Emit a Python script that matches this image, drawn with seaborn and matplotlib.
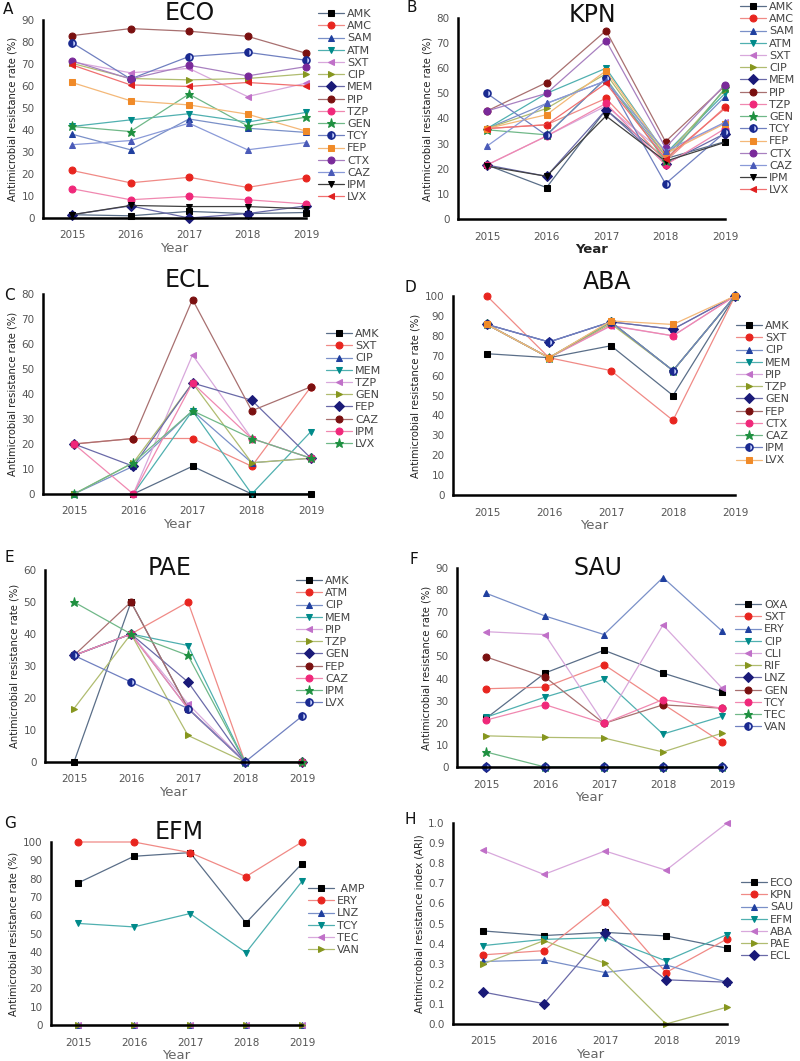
import numpy as np
import pandas as pd
import matplotlib
matplotlib.use("Agg")
import matplotlib.pyplot as plt
import seaborn as sns

years = [2015, 2016, 2017, 2018, 2019]

# ---- A: ECO
eco_drugs = ['AMK', 'AMC', 'SAM', 'ATM', 'SXT', 'CIP', 'MEM', 'PIP', 'TZP', 'GEN', 'TCY', 'FEP', 'CTX', 'CAZ', 'IPM', 'LVX']
eco_vals = [
    [1.5, 1.0, 3.0, 2.0, 2.5],
    [21.6, 16.0, 18.5, 13.9, 18.2],
    [38.1, 31.0, 45.0, 40.8, 38.9],
    [41.6, 44.6, 47.4, 43.6, 48.0],
    [71.0, 66.0, 68.0, 55.2, 61.3],
    [70.3, 63.4, 62.8, 63.4, 65.5],
    [1.5, 5.5, 0.0, 2.0, 5.5],
    [82.9, 86.1, 84.9, 82.6, 74.9],
    [13.3, 8.3, 9.8, 8.3, 6.4],
    [41.6, 39.3, 56.3, 41.9, 45.8],
    [79.7, 63.2, 73.4, 75.3, 71.7],
    [61.6, 53.3, 51.4, 47.2, 39.5],
    [71.4, 63.2, 69.4, 64.6, 68.8],
    [33.3, 35.2, 43.1, 31.0, 34.3],
    [1.5, 5.7, 5.2, 5.2, 4.2],
    [69.6, 60.5, 59.8, 61.6, 60.0],
]

# ---- B: KPN
kpn_drugs = ['AMK', 'AMC', 'SAM', 'ATM', 'SXT', 'CIP', 'MEM', 'PIP', 'TZP', 'GEN', 'TCY', 'FEP', 'CTX', 'CAZ', 'IPM', 'LVX']
kpn_vals = [
    [21.5, 12.5, 43.5, 24.0, 30.8],
    [36.0, 37.5, 48.0, 23.0, 44.5],
    [36.0, 46.0, 55.0, 25.0, 48.7],
    [36.0, 50.0, 60.0, 26.0, 50.0],
    [21.5, 33.0, 45.0, 26.0, 38.5],
    [36.0, 44.0, 57.8, 25.0, 51.5],
    [21.5, 17.0, 43.5, 22.0, 34.0],
    [43.0, 54.3, 75.0, 30.8, 53.0],
    [21.5, 33.0, 46.0, 21.5, 36.0],
    [35.5, 33.5, 56.0, 23.0, 52.0],
    [50.0, 33.3, 56.0, 14.0, 34.5],
    [36.0, 41.5, 59.0, 26.0, 38.0],
    [43.0, 50.0, 71.0, 28.4, 53.5],
    [29.0, 46.0, 55.0, 27.0, 38.5],
    [21.0, 17.0, 41.0, 23.0, 30.5],
    [36.0, 37.5, 54.0, 24.0, 44.0],
]

# ---- C: ECL
ecl_drugs = ['AMK', 'SXT', 'CIP', 'MEM', 'TZP', 'GEN', 'FEP', 'CAZ', 'IPM', 'LVX']
ecl_vals = [
    [0.0, 0.0, 11.1, 0.0, 0.0],
    [20.0, 22.2, 22.2, 11.1, 42.9],
    [0.0, 11.1, 33.3, 12.5, 14.3],
    [0.0, 0.0, 33.3, 0.0, 25.0],
    [0.0, 0.0, 55.6, 22.2, 14.3],
    [0.0, 12.5, 44.4, 12.5, 14.3],
    [20.0, 11.1, 44.4, 37.5, 14.3],
    [20.0, 22.2, 77.8, 33.3, 42.9],
    [20.0, 0.0, 44.4, 22.2, 14.3],
    [0.0, 12.5, 33.3, 22.2, 14.3],
]

# ---- D: ABA
aba_drugs = ['AMK', 'SXT', 'CIP', 'MEM', 'PIP', 'TZP', 'GEN', 'FEP', 'CTX', 'CAZ', 'IPM', 'LVX']
aba_vals = [
    [71.0, 69.0, 75.0, 50.0, 100.0],
    [100.0, 69.0, 62.5, 37.5, 100.0],
    [85.7, 76.9, 87.0, 83.3, 100.0],
    [85.7, 69.0, 87.0, 62.5, 100.0],
    [85.7, 69.0, 85.0, 80.0, 100.0],
    [85.7, 69.0, 86.0, 62.5, 100.0],
    [85.7, 76.9, 87.0, 83.3, 100.0],
    [85.7, 69.0, 87.0, 62.5, 100.0],
    [85.7, 69.0, 85.2, 80.0, 100.0],
    [85.7, 69.0, 87.0, 62.5, 100.0],
    [85.7, 76.9, 87.0, 62.5, 100.0],
    [85.7, 69.0, 87.5, 85.7, 100.0],
]

# ---- E: PAE
pae_drugs = ['AMK', 'ATM', 'CIP', 'MEM', 'PIP', 'TZP', 'GEN', 'FEP', 'CAZ', 'IPM', 'LVX']
pae_vals = [
    [0.0, 50.0, 16.7, 0.0, 0.0],
    [33.3, 40.0, 50.0, 0.0, 0.0],
    [33.3, 40.0, 16.7, 0.0, 0.0],
    [33.3, 40.0, 36.4, 0.0, 0.0],
    [33.3, 40.0, 18.2, 0.0, 0.0],
    [16.7, 40.0, 8.3, 0.0, 0.0],
    [33.3, 40.0, 25.0, 0.0, 0.0],
    [33.3, 50.0, 16.7, 0.0, 0.0],
    [33.3, 40.0, 16.7, 0.0, 0.0],
    [50.0, 40.0, 33.3, 0.0, 0.0],
    [33.3, 25.0, 16.7, 0.0, 14.3],
]

# ---- F: SAU
sau_drugs = ['OXA', 'SXT', 'ERY', 'CIP', 'CLI', 'RIF', 'LNZ', 'GEN', 'TCY', 'TEC', 'VAN']
sau_vals = [
    [22.0, 42.5, 52.8, 42.5, 34.1],
    [35.4, 36.1, 46.3, 28.5, 11.1],
    [78.6, 68.3, 59.9, 85.7, 61.5],
    [22.5, 31.6, 39.6, 14.9, 22.9],
    [61.2, 59.9, 19.7, 64.2, 35.7],
    [14.1, 13.4, 13.1, 6.8, 15.3],
    [0.0, 0.0, 0.0, 0.0, 0.0],
    [49.8, 40.7, 19.7, 28.1, 26.6],
    [21.2, 28.2, 19.7, 30.5, 26.6],
    [6.8, 0.0, 0.0, 0.0, 0.0],
    [0.0, 0.0, 0.0, 0.0, 0.0],
]

# ---- G: EFM
efm_drugs = [' AMP', 'ERY', 'LNZ', 'TCY', 'TEC', 'VAN']
efm_vals = [
    [77.6, 92.2, 94.2, 55.8, 88.2],
    [100.0, 100.0, 94.2, 81.1, 100.0],
    [0.0, 0.0, 0.0, 0.0, 0.0],
    [55.5, 53.6, 60.9, 39.6, 78.5],
    [0.0, 0.0, 0.0, 0.0, 0.0],
    [0.0, 0.0, 0.0, 0.0, 0.0],
]

# ---- H: ARI
ari_species = ['ECO', 'KPN', 'SAU', 'EFM', 'ABA', 'PAE', 'ECL']
ari_vals = [
    [0.463, 0.440, 0.456, 0.438, 0.377],
    [0.344, 0.365, 0.605, 0.256, 0.423],
    [0.311, 0.319, 0.256, 0.294, 0.208],
    [0.390, 0.421, 0.430, 0.314, 0.445],
    [0.864, 0.744, 0.861, 0.765, 1.000],
    [0.298, 0.415, 0.302, 0.000, 0.084],
    [0.159, 0.101, 0.455, 0.220, 0.208],
]

# marker styles in the order used by every panel
markers = ['s', 'o', '^', 'v', '<', '>', 'D', 'o', 'o', '*', 'o', 's', 'o', '^', 'v', '<']
mcolors = ['#000000', '#e8251f', '#1f3f9f', '#008a8a', '#c070c8', '#86961e', '#1a1a78', '#7a1010',
           '#f0287a', '#1e9040', '#1a2a90', '#f08a28', '#7a2a9a', '#4a5ab8', '#000000', '#e02020']
lcolors = ['#5a6e88', '#f08a86', '#7a90c8', '#50b0b0', '#d8a8dc', '#b0bc70', '#6a6aa8', '#a87070',
           '#f088b0', '#70b888', '#7080c0', '#f4b878', '#a880c0', '#8a9ad8', '#404040', '#f07070']

sns.set_style('white')
plt.rcParams['font.family'] = ['DejaVu Sans']

W, H = 800, 1061
fig = plt.figure(figsize=(8, 10.61), dpi=100)
fig.patch.set_facecolor('white')


def panel(box, labels, vals, ymax, ystep, title, tpos, letter, lpos, legpos, ylab, yfmt='{:.0f}', bold_year=False):
    left, x15, right, top, bottom = box
    ax = fig.add_axes([left / W, 1 - bottom / H, (right - left) / W, (bottom - top) / H])
    for i, (lab, v) in enumerate(zip(labels, vals)):
        kw = dict(marker=markers[i], markersize=5 if markers[i] != '*' else 6.5,
                  markerfacecolor=mcolors[i], markeredgecolor=mcolors[i],
                  color=lcolors[i], linewidth=0.9, clip_on=False)
        if i == 10:
            kw.update(fillstyle='left', markerfacecoloralt='#c8d4ff', markeredgewidth=1.2)
        df = pd.DataFrame({'Year': years, 'val': v})
        sns.lineplot(data=df, x='Year', y='val', ax=ax, label=lab, **kw)
    step = (right - x15) / 4.0
    ax.set_xlim(2015 - (x15 - left) / step, 2019)
    ax.set_ylim(0, ymax)
    ax.set_xticks(years)
    ax.set_xticklabels([str(y) for y in years])
    yt = np.arange(0, ymax + ystep / 2, ystep)
    ax.set_yticks(yt)
    ax.set_yticklabels([yfmt.format(t) for t in yt])
    for s in ['top', 'right']:
        ax.spines[s].set_visible(False)
    for s in ['left', 'bottom']:
        ax.spines[s].set_linewidth(1.8)
        ax.spines[s].set_color('black')
    ax.tick_params(axis='both', length=0, labelsize=7.5, labelcolor='#555555')
    ax.tick_params(axis='x', pad=9)
    ax.tick_params(axis='y', pad=6)
    ax.set_xlabel('Year', fontsize=9.5, color='#222222' if bold_year else '#666666',
                  fontweight='bold' if bold_year else 'normal', labelpad=1)
    ax.set_ylabel(ylab, fontsize=7.2, color='#222222', labelpad=3)
    ax.grid(False)
    if title:
        fig.text(tpos[0] / W, 1 - tpos[1] / H, title, fontsize=17, ha='center', va='center', color='#111111')
    fig.text(lpos[0] / W, 1 - lpos[1] / H, letter, fontsize=11, ha='left', va='center', color='#111111')
    leg = ax.legend(loc='upper left', bbox_to_anchor=(legpos[0] / W, 1 - legpos[1] / H),
                    bbox_transform=fig.transFigure, frameon=False, fontsize=8,
                    handlelength=2.3, handletextpad=0.3, labelspacing=0.2, borderpad=0,
                    borderaxespad=0)
    for t in leg.get_texts():
        t.set_color('#444444')
    return ax


rate = 'Antimicrobial resistance rate (%)'
panel((43, 72, 306, 20, 218), eco_drugs, eco_vals, 90, 10, 'ECO', (190, 13), 'A', (3, 10), (318, 9), rate)
panel((458, 487, 725, 18, 219), kpn_drugs, kpn_vals, 80, 10, 'KPN', (592, 15), 'B', (407, 8), (740, 2), rate, bold_year=True)
panel((43, 74, 311, 294, 494), ecl_drugs, ecl_vals, 80, 10, 'ECL', (187, 280), 'C', (4, 296), (326, 329), rate)
panel((453, 487, 735, 296, 495), aba_drugs, aba_vals, 100, 10, 'ABA', (607, 282), 'D', (404, 288), (736, 321), rate)
panel((45, 74, 302, 570, 762), pae_drugs, pae_vals, 60, 10, 'PAE', (170, 568), 'E', (4, 558), (296, 576), rate)
panel((457, 486, 722, 568, 767), sau_drugs, sau_vals, 90, 10, 'SAU', (598, 568), 'F', (410, 560), (735, 600), rate)
panel((51, 78, 302, 842, 1025), efm_drugs, efm_vals, 100, 10, 'EFM', (179, 832), 'G', (4, 823), (308, 884), rate)
panel((453, 483, 727, 823, 1024), ari_species, ari_vals, 1.0, 0.1, None, None, 'H', (405, 820), (741, 878),
      'Antimicrobial resistance index (ARI)', yfmt='{:.1f}')

fig.savefig('out.png', dpi=100, facecolor='white')
